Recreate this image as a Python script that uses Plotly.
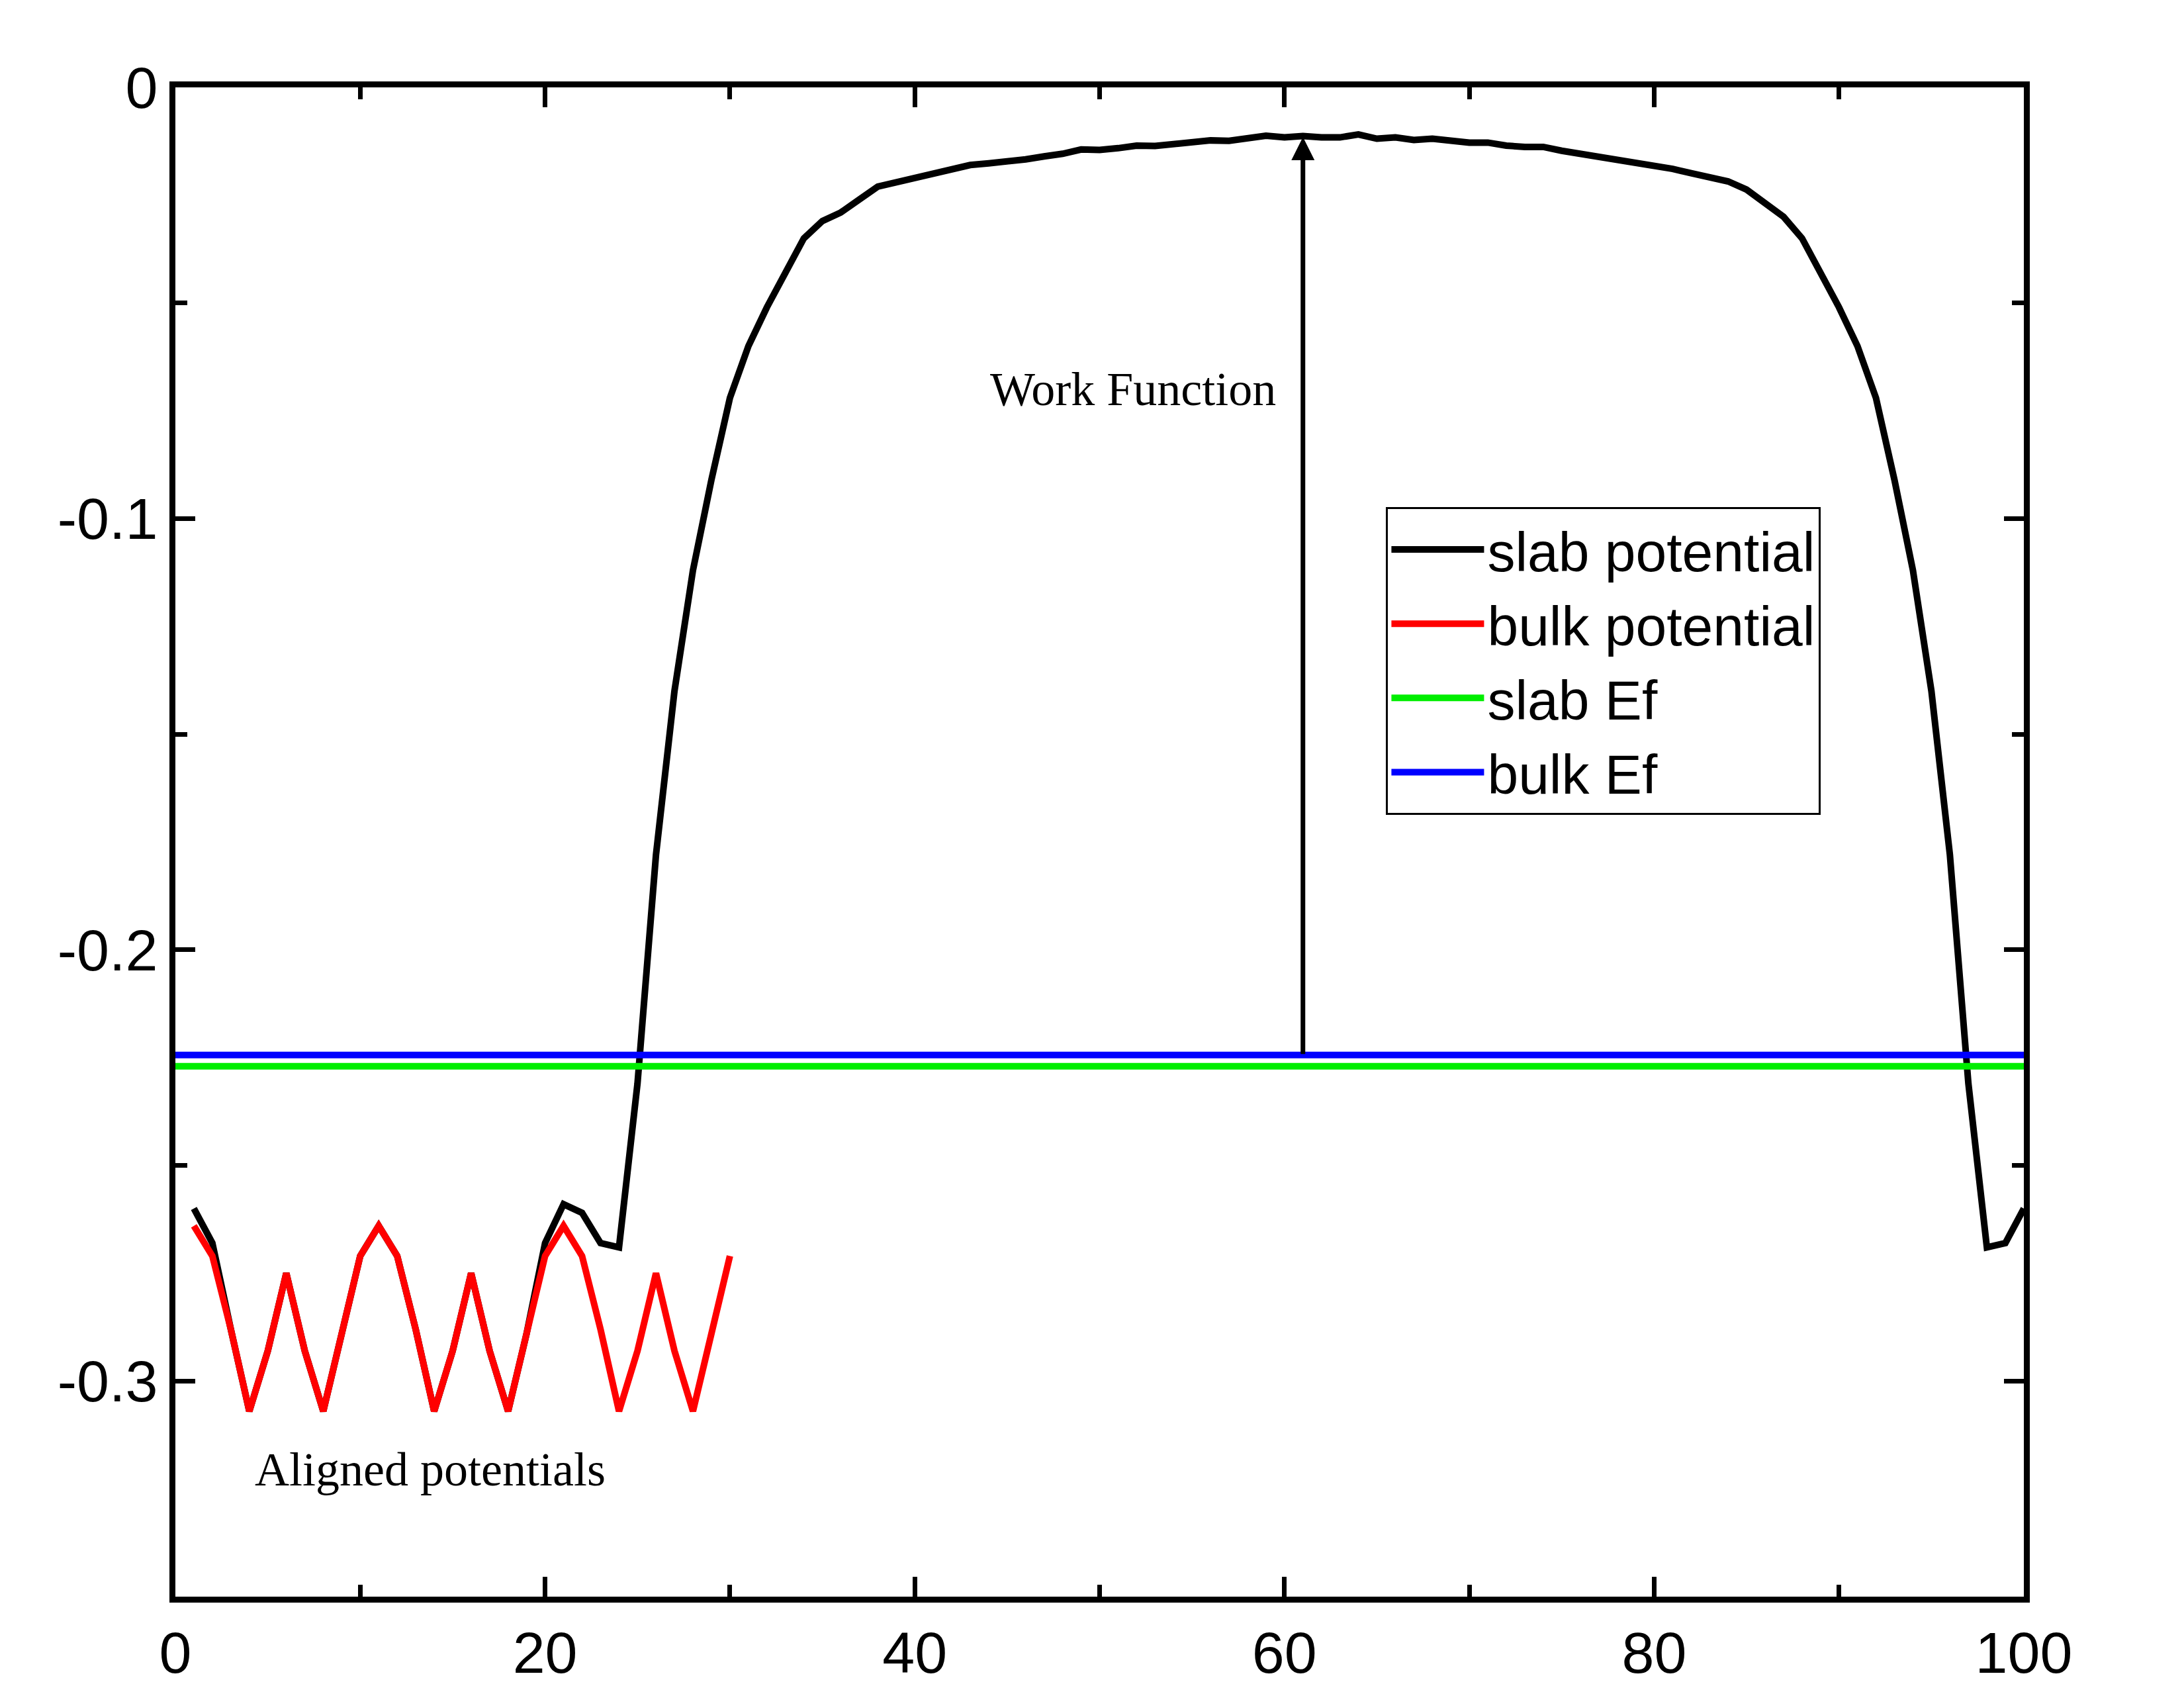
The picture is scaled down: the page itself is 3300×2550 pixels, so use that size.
import plotly.graph_objects as go

slab_x = list(range(1, 101))
slab_y = [-0.260, -0.268, -0.288, -0.307, -0.293, -0.275, -0.293, -0.307, -0.289, -0.271,
          -0.264, -0.271, -0.288, -0.307, -0.293, -0.275, -0.293, -0.307, -0.289, -0.268,
          -0.259, -0.261, -0.268, -0.269, -0.231, -0.178, -0.140, -0.112, -0.091, -0.072,
          -0.060, -0.051, -0.043, -0.035, -0.031, -0.029, -0.026, -0.023, -0.022, -0.021,
          -0.020, -0.019, -0.018, -0.0176, -0.0173, -0.0167, -0.016, -0.0154, -0.0144, -0.0145,
          -0.0141, -0.0135, -0.0136, -0.0132, -0.0125, -0.0123, -0.0124, -0.0119, -0.0112, -0.0116,
          -0.0113, -0.0116, -0.0116, -0.0109, -0.0119, -0.0116, -0.0122, -0.0119, -0.0125, -0.0128,
          -0.0128, -0.0135, -0.0138, -0.0138, -0.0147, -0.0154, -0.016, -0.0167, -0.0173, -0.018,
          -0.0189, -0.0199, -0.0208, -0.0218, -0.0237, -0.027, -0.030, -0.035, -0.043, -0.051,
          -0.060, -0.072, -0.091, -0.112, -0.140, -0.178, -0.231, -0.269, -0.268, -0.260]

bulk_x = list(range(1, 31))
bulk_y = [-0.264, -0.271, -0.288, -0.307, -0.293, -0.275, -0.293, -0.307, -0.289, -0.271,
          -0.264, -0.271, -0.288, -0.307, -0.293, -0.275, -0.293, -0.307, -0.289, -0.271,
          -0.264, -0.271, -0.288, -0.307, -0.293, -0.275, -0.293, -0.307, -0.289, -0.271]

slab_ef = -0.227
bulk_ef = -0.2244
arrow_x = 61
arrow_top = -0.0115

x_ticks = [0, 20, 40, 60, 80, 100]
y_ticks = [0, -0.1, -0.2, -0.3]
y_labels = ["0", "-0.1", "-0.2", "-0.3"]

fig = go.Figure()
fig.add_trace(go.Scatter(x=slab_x, y=slab_y, mode="lines", name="slab potential",
                         line=dict(color="black", width=10)))
fig.add_trace(go.Scatter(x=bulk_x, y=bulk_y, mode="lines", name="bulk potential",
                         line=dict(color="red", width=10)))
fig.add_trace(go.Scatter(x=[0, 100], y=[slab_ef, slab_ef], mode="lines", name="slab Ef",
                         line=dict(color="#00ee00", width=10)))
fig.add_trace(go.Scatter(x=[0, 100], y=[bulk_ef, bulk_ef], mode="lines", name="bulk Ef",
                         line=dict(color="blue", width=10)))

fig.add_annotation(x=arrow_x, y=arrow_top, ax=arrow_x, ay=bulk_ef, xref="x", yref="y",
                   axref="x", ayref="y", text="", showarrow=True, arrowhead=2,
                   arrowsize=1, arrowwidth=7, arrowcolor="black")
fig.add_annotation(x=51.8, y=-0.07, text="Work Function", showarrow=False,
                   font=dict(family="Liberation Serif", size=72, color="black"))
fig.add_annotation(x=13.8, y=-0.3205, text="Aligned potentials", showarrow=False,
                   font=dict(family="Liberation Serif", size=72, color="black"))

axis_common = dict(showgrid=False, zeroline=False, showline=True, linecolor="black",
                   linewidth=9, mirror="ticks", ticks="inside", ticklen=30, tickwidth=7,
                   tickcolor="black", tickfont=dict(family="Liberation Sans", size=88, color="black"))
fig.update_xaxes(range=[0, 100], tickvals=x_ticks,
                 minor=dict(dtick=10, ticks="inside", ticklen=18, tickwidth=7, tickcolor="black"),
                 **axis_common)
fig.update_yaxes(range=[-0.35, 0], tickvals=y_ticks, ticktext=y_labels,
                 minor=dict(dtick=0.05, ticks="inside", ticklen=18, tickwidth=7, tickcolor="black"),
                 **axis_common)

fig.update_layout(width=3300, height=2550, plot_bgcolor="white", paper_bgcolor="white",
                  margin=dict(l=257, r=250, t=124, b=139),
                  legend=dict(x=0.655, y=0.722, xanchor="left", yanchor="top",
                              bgcolor="white", bordercolor="black", borderwidth=3,
                              font=dict(family="Liberation Sans", size=84, color="black"),
                              itemwidth=140, tracegroupgap=0))

fig.write_html("out.html")
